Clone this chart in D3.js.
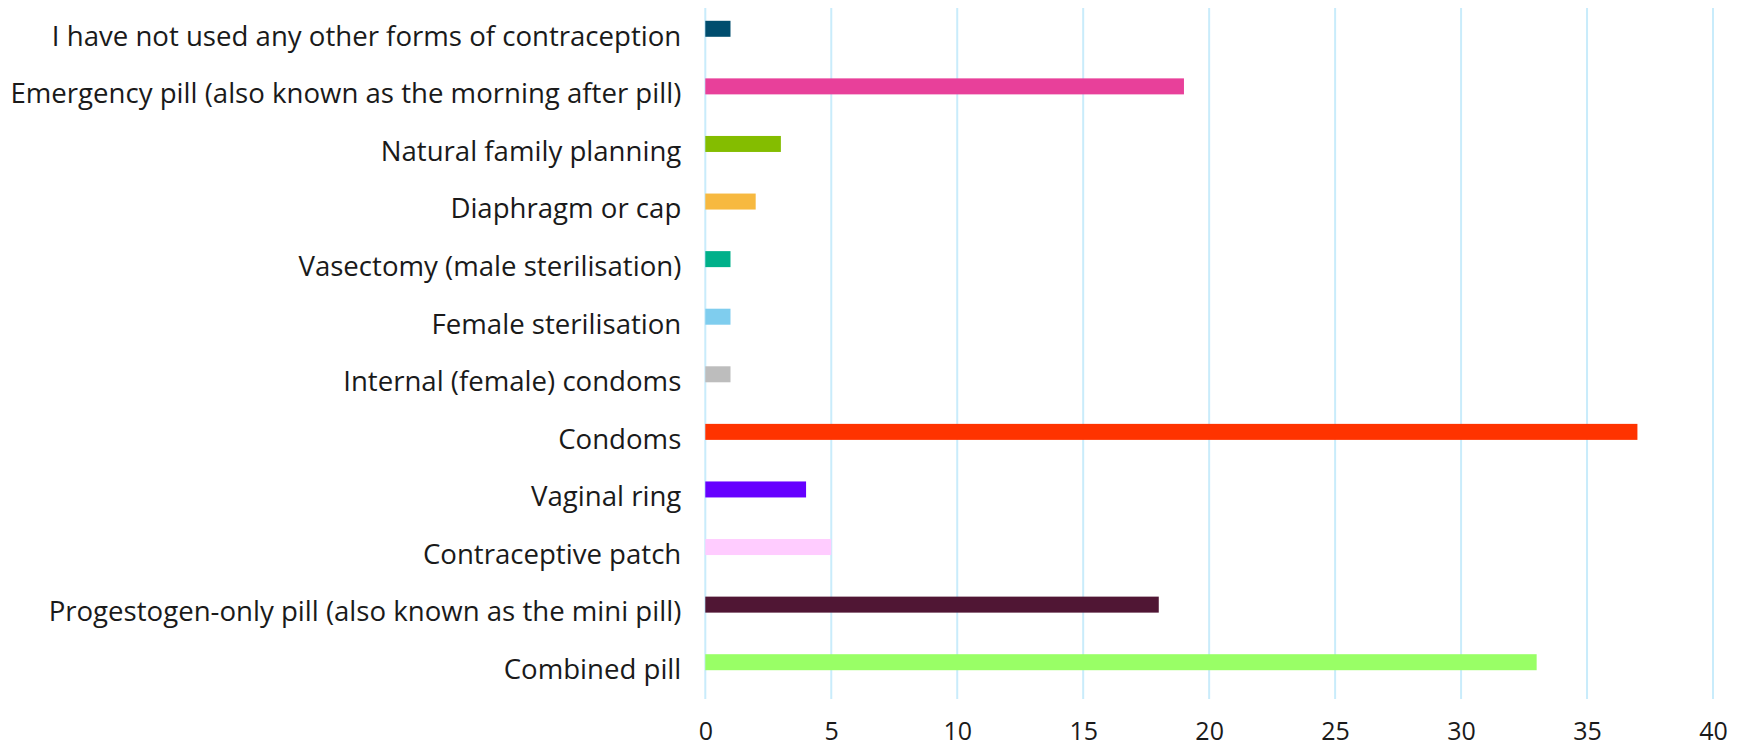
<!DOCTYPE html>
<html>
<head>
<meta charset="utf-8">
<script src="https://cdn.jsdelivr.net/npm/d3@7"></script>
<style>
  body { margin: 0; background: #fff; }
  svg text { font-family: "Open Sans", sans-serif; fill: #1a1a1a; }
</style>
</head>
<body>
<script>
// categories top to bottom, as in the picture
var categories = [
  'I have not used any other forms of contraception',
  'Emergency pill (also known as the morning after pill)',
  'Natural family planning',
  'Diaphragm or cap',
  'Vasectomy (male sterilisation)',
  'Female sterilisation',
  'Internal (female) condoms',
  'Condoms',
  'Vaginal ring',
  'Contraceptive patch',
  'Progestogen-only pill (also known as the mini pill)',
  'Combined pill'
];
var values = [1, 19, 3, 2, 1, 1, 1, 37, 4, 5, 18, 33];
var colors = ['#004d6e', '#e8409a', '#84bd00', '#f7b940', '#00b08a', '#7fcdee',
  '#bdbdbd', '#ff3300', '#6600ff', '#ffccff', '#501634', '#99ff66'];
var xTicks = [0, 5, 10, 15, 20, 25, 30, 35, 40];

var width = 1744, height = 748;
var plotLeft = 705.3, plotRight = 1713, plotTop = 8, plotBottom = 699;

var svg = d3.select('body').append('svg').attr('width', width).attr('height', height);

var x = d3.scaleLinear().domain([0, 40]).range([plotLeft, plotRight]);
var y = d3.scaleBand().domain(categories).range([plotTop, plotBottom]);

// gridlines
svg.append('g').selectAll('line')
  .data(xTicks)
  .enter()
  .append('line')
  .attr('x1', function(d) { return x(d); })
  .attr('x2', function(d) { return x(d); })
  .attr('y1', plotTop)
  .attr('y2', plotBottom)
  .attr('stroke', '#c9ecfb')
  .attr('stroke-width', 2);

// bars sit just above the middle of each band
var barH = 16;
svg.append('g').selectAll('rect')
  .data(values)
  .enter()
  .append('rect')
  .attr('x', x(0))
  .attr('y', function(d, i) { return y(categories[i]) + y.bandwidth() / 2 - barH; })
  .attr('width', function(d) { return x(d) - x(0); })
  .attr('height', barH)
  .attr('fill', function(d, i) { return colors[i]; });

// category labels
var yAxis = d3.axisLeft(y).tickSize(0).tickPadding(24);
var gy = svg.append('g').attr('transform', 'translate(' + plotLeft + ',0)').call(yAxis);
gy.select('.domain').remove();
gy.selectAll('text').attr('font-size', 27.6).style('font-family', '"Open Sans", sans-serif').attr('fill', '#1a1a1a');

// value axis
var xAxis = d3.axisBottom(x).tickValues(xTicks).tickSize(0);
var gx = svg.append('g').attr('transform', 'translate(0,' + plotBottom + ')').call(xAxis);
gx.select('.domain').remove();
gx.selectAll('text')
  .attr('y', 41).attr('dy', 0)
  .attr('font-size', 25).style('font-family', '"Open Sans", sans-serif').attr('fill', '#1a1a1a');
</script>
</body>
</html>
